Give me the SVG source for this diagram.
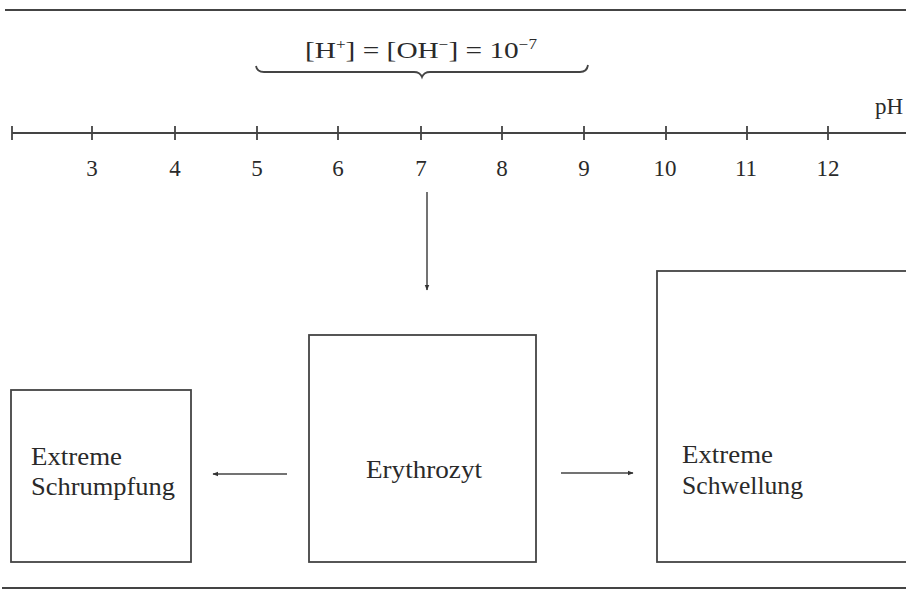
<svg xmlns="http://www.w3.org/2000/svg" width="906" height="590" viewBox="0 0 906 590">
<style>
text{font-family:"Liberation Serif","DejaVu Serif",serif;fill:#2a2a2a}
.num{font-size:23px;text-anchor:middle}
.lbl{font-size:26px}
.box{fill:#fff;stroke:#444;stroke-width:1.8}
.ln{stroke:#444;stroke-width:1.8;fill:none}
.conn{stroke:#444;stroke-width:1.5;fill:none;marker-end:url(#ah)}
</style>
<defs>
<marker id="ah" viewBox="0 0 10 10" refX="9" refY="5" markerWidth="6" markerHeight="6" orient="auto" markerUnits="userSpaceOnUse">
<path d="M0,1 L10,5 L0,9 Z" fill="#333"/>
</marker>
</defs>
<rect width="906" height="590" fill="#fff"/>
<g id="frame">
<line class="ln" x1="5" y1="10" x2="906" y2="10" stroke-width="2"/>
<line class="ln" x1="2" y1="588" x2="906" y2="588" stroke-width="2"/>
</g>
<g id="formula">
<text x="421" y="58" font-size="24" text-anchor="middle" textLength="232" lengthAdjust="spacingAndGlyphs">[H<tspan font-size="14" dy="-9">+</tspan><tspan dy="9">] = [OH</tspan><tspan font-size="14" dy="-9">−</tspan><tspan dy="9">] = 10</tspan><tspan font-size="14" dy="-9">−7</tspan></text>
<path class="ln" d="M256,66 Q257,72 264,72 L414,72 Q420,72 422,77 Q424,72 430,72 L580,72 Q587,72 588,65" stroke-width="1.6"/>
</g>
<g id="axis">
<line class="ln" x1="12" y1="133" x2="906" y2="133"/>
<path class="ln" d="M12,126V140M92,126V140M175,126V140M257,126V140M338,126V140M421,126V140M502,126V140M584,126V140M666,126V140M747,126V140M828,126V140"/>
<text class="num" x="92" y="176">3</text>
<text class="num" x="175" y="176">4</text>
<text class="num" x="257" y="176">5</text>
<text class="num" x="338" y="176">6</text>
<text class="num" x="421" y="176">7</text>
<text class="num" x="502" y="176">8</text>
<text class="num" x="584" y="176">9</text>
<text class="num" x="665" y="176">10</text>
<text class="num" x="746" y="176">11</text>
<text class="num" x="828" y="176">12</text>
<text x="875" y="114" font-size="23">pH</text>
</g>
<g id="schrumpfung">
<rect class="box" x="11" y="390" width="180" height="172"/>
<text class="lbl" x="31" y="465" textLength="91" lengthAdjust="spacingAndGlyphs">Extreme</text>
<text class="lbl" x="31" y="495" textLength="144" lengthAdjust="spacingAndGlyphs">Schrumpfung</text>
</g>
<g id="erythrozyt">
<rect class="box" x="309" y="335" width="227" height="227"/>
<text class="lbl" x="366" y="478" textLength="116" lengthAdjust="spacingAndGlyphs">Erythrozyt</text>
</g>
<g id="schwellung">
<rect class="box" x="657" y="271" width="255" height="291"/>
<text class="lbl" x="682" y="463" textLength="91" lengthAdjust="spacingAndGlyphs">Extreme</text>
<text class="lbl" x="682" y="494" textLength="121" lengthAdjust="spacingAndGlyphs">Schwellung</text>
</g>
<g id="connectors">
<line class="conn" x1="427" y1="192" x2="427" y2="290"/>
<line class="conn" x1="287" y1="474" x2="213" y2="474"/>
<line class="conn" x1="561" y1="473" x2="633" y2="473"/>
</g>
</svg>
